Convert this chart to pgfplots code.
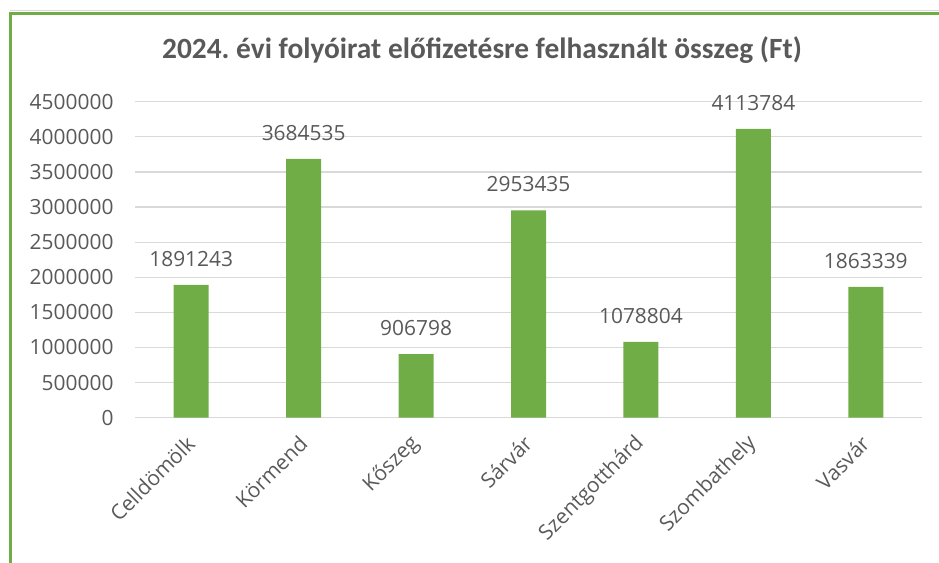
\documentclass[border=0pt]{standalone}
\usepackage{pgfplots}
\usepackage{pgfplotstable}
\pgfplotsset{compat=1.18}
\usepackage{fontspec}
\setmainfont{Open Sans}
\newfontfamily\titlefont{Carlito}
\definecolor{bargreen}{HTML}{70AD47}
\definecolor{txt}{HTML}{595959}
\definecolor{gridc}{HTML}{D9D9D9}
\pgfplotstableread{
x y lab
0 1891243 1891243
1 3684535 3684535
2 906798 906798
3 2953435 2953435
4 1078804 1078804
5 4113784 4113784
6 1863339 1863339
}\data
\frenchspacing
\begin{document}
\begin{tikzpicture}[x=1bp,y=1bp]
\useasboundingbox (0,0) rectangle (939,563);
\draw[gridc, line width=0.8bp] (10,553) -- (939,553);
\draw[bargreen, line width=3.5bp] (10.5,0) -- (10.5,549.5) -- (939,549.5);
\node[font=\titlefont\bfseries\fontsize{29.5}{34}\selectfont, text=txt] at (482,513) {2024. évi folyóirat előfizetésre felhasznált összeg (Ft)};
\begin{axis}[
  at={(135bp,145.3bp)}, anchor=south west,
  scale only axis, width=787bp, height=316bp,
  xmin=-0.5, xmax=6.5, ymin=0, ymax=4500000,
  ybar, bar width=35bp,
  axis line style={draw=none},
  major tick length=0pt,
  ymajorgrids, grid style={gridc, line width=1.2bp},
  ytick={0,500000,1000000,1500000,2000000,2500000,3000000,3500000,4000000,4500000},
  scaled y ticks=false,
  yticklabel style={/pgf/number format/fixed, /pgf/number format/precision=0, /pgf/number format/1000 sep={}, /pgf/number format/assume math mode=true, xshift=-18bp},
  tick label style={font=\fontsize{21}{25}\selectfont, text=txt},
  xtick={0,1,2,3,4,5,6},
  xticklabels={Celldömölk,Körmend,Kőszeg,Sárvár,Szentgotthárd,Szombathely,Vasvár},
  xticklabel style={rotate=45, anchor=east, xshift=3bp},
  xticklabel shift=22bp,
  nodes near coords,
  point meta=explicit symbolic,
  every node near coord/.style={anchor=base, yshift=18.5bp, font=\fontsize{21}{25}\selectfont, text=txt},
]
\addplot[fill=bargreen, draw=none] table[x=x, y=y, meta=lab]{\data};
\end{axis}
\end{tikzpicture}
\end{document}
